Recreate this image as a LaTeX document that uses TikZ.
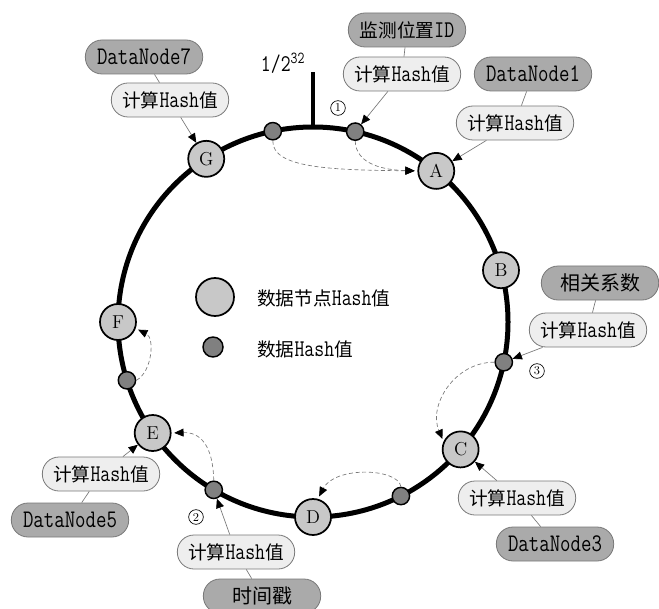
\documentclass[tikz,border=0pt]{standalone}
\usepackage{fontspec}
\usepackage{graphicx}
\newfontfamily\cjk{Noto Sans CJK SC}
\usetikzlibrary{arrows.meta,calc}
\definecolor{darkbox}{RGB}{170,170,170}
\definecolor{lightbox}{RGB}{238,238,238}
\definecolor{bignode}{RGB}{200,200,200}
\definecolor{smallnode}{RGB}{128,128,128}
\definecolor{edgegray}{RGB}{120,120,120}
\newcommand{\lat}[2][18]{\scalebox{0.8}[1]{\ttfamily\fontsize{#1pt}{#1pt}\selectfont #2}}
\newcommand{\hashval}{{\cjk 计算}\lat{Hash}{\cjk 值}}
\begin{document}
\begin{tikzpicture}[x=0.75pt,y=-0.75pt,
  ring/.style={line width=3.75pt},
  bignd/.style={circle,draw=black,line width=1.3pt,fill=bignode,minimum size=27pt,inner sep=0pt,font=\fontsize{14pt}{16pt}\selectfont},
  smallnd/.style={circle,draw=black,line width=1.1pt,fill=smallnode,minimum size=13pt,inner sep=0pt},
  darkb/.style={rectangle,rounded corners=12.5pt,draw=edgegray,line width=0.6pt,fill=darkbox,minimum width=88pt,minimum height=25.5pt,inner sep=0pt,font=\fontsize{14pt}{16pt}\selectfont},
  lightb/.style={darkb,fill=lightbox},
  link/.style={draw=edgegray,line width=0.5pt},
  feed/.style={draw=edgegray,line width=0.5pt,-{Triangle[length=7pt,width=6pt,color=black]}},
  jump/.style={draw=edgegray,dash pattern=on 3pt off 2pt,line width=0.5pt,shorten >=2pt,-{Triangle[length=7pt,width=6pt,color=black]}},
  numc/.style={circle,draw=black,line width=0.5pt,minimum size=11pt,inner sep=0pt,font=\fontsize{9pt}{10pt}\selectfont},
  legtext/.style={anchor=west,inner sep=0pt,font=\fontsize{14pt}{16pt}\selectfont}
]
\useasboundingbox (0,0) rectangle (659,609);
\coordinate (c) at (313,322);
\draw[ring] (c) circle[radius=146.25pt];
% tick
\coordinate (top) at (313,127);
\coordinate (tickend) at (313,72);
\draw[line width=3pt] (top) -- (tickend);
\node (lab) at (283,63) {\lat{1/2\textsuperscript{32}}};
% ring nodes
\node[bignd] (A) at ({313+195*cos(50.8)},{322-195*sin(50.8)}) {A};
\node[bignd] (B) at ({313+195*cos(15.4)},{322-195*sin(15.4)}) {B};
\node[bignd] (C) at ({313+195*cos(-40.8)},{322-195*sin(-40.8)}) {C};
\node[bignd] (D) at ({313+195*cos(-90)},{322-195*sin(-90)}) {D};
\node[bignd] (E) at ({313+195*cos(214.7)},{322-195*sin(214.7)}) {E};
\node[bignd] (F) at ({313+195*cos(180)},{322-195*sin(180)}) {F};
\node[bignd] (G) at ({313+195*cos(123.2)},{322-195*sin(123.2)}) {G};
\node[smallnd] (s1) at ({313+195*cos(101.9)},{322-195*sin(101.9)}) {};
\node[smallnd] (s2) at ({313+195*cos(77.5)},{322-195*sin(77.5)}) {};
\node[smallnd] (s3) at ({313+195*cos(-11.9)},{322-195*sin(-11.9)}) {};
\node[smallnd] (s4) at ({313+195*cos(-63.2)},{322-195*sin(-63.2)}) {};
\node[smallnd] (s5) at ({313+195*cos(-120.6)},{322-195*sin(-120.6)}) {};
\node[smallnd] (s6) at ({313+195*cos(197.4)},{322-195*sin(197.4)}) {};
% legend
\node[bignd,minimum size=28.5pt] (lg1) at (215,297) {};
\node[legtext] (lt1) at (257,298) {{\cjk 数据节点}\lat{Hash}{\cjk 值}};
\node[smallnd,minimum size=15pt] (lg2) at (213,347) {};
\node[legtext] (lt2) at (257,349) {{\cjk 数据}\lat{Hash}{\cjk 值}};
% boxes
\node[darkb] (pid) at (407,30) {{\cjk 监测位置}\lat{ID}};
\node[lightb] (h1) at (402,74) {\hashval};
\node[darkb] (dn7) at (144,57) {\lat[19]{DataNode7}};
\node[lightb] (h7) at (170,100) {\hashval};
\node[darkb] (dn1) at (533,74) {\lat[19]{DataNode1}};
\node[lightb] (hA) at (515,123) {\hashval};
\node[darkb,font=\fontsize{15pt}{17pt}\selectfont] (rel) at (600,283) {\cjk 相关系数};
\node[lightb] (h3) at (588,330) {\hashval};
\node[darkb] (dn3) at (555,544) {\lat[19]{DataNode3}};
\node[lightb] (hC) at (517,498) {\hashval};
\node[darkb] (dn5) at (70,520) {\lat[19]{DataNode5}};
\node[lightb] (hE) at (101,474) {\hashval};
\node[darkb,font=\fontsize{15pt}{17pt}\selectfont] (ts) at (262,596) {\cjk 时间戳};
\node[lightb] (h2) at (236,552) {\hashval};
% circled numbers
\node[numc] (n1) at (338,108) {1};
\node[numc] (n2) at (196,517) {2};
\node[numc] (n3) at (537,371) {3};
% links
\draw[link] (pid) -- (h1);
\draw[link] (dn7) -- (h7);
\draw[link] (dn1) -- (hA);
\draw[link] (rel) -- (h3);
\draw[link] (dn3) -- (hC);
\draw[link] (dn5) -- (hE);
\draw[link] (ts) -- (h2);
\draw[feed] (h1) -- (s2);
\draw[feed] (h7) -- (G);
\draw[feed] (hA) -- (A);
\draw[feed] (h3) -- (s3);
\draw[feed] (hC) -- (C);
\draw[feed] (hE) -- (E);
\draw[feed] (h2) -- (s5);
% dashed jumps
\draw[jump] (s1.south) .. controls (272,168) and (330,170) .. (A.west);
\draw[jump] (s2.south) .. controls (356,165) and (385,170) .. (A.west);
\draw[jump] (s3.west) .. controls (455,362) and (428,405) .. (C.155);
\draw[jump] (s4.north) .. controls (398,468) and (335,466) .. (D.75);
\draw[jump] (s5.north) .. controls (213,445) and (200,432) .. (E.east);
\draw[jump] (s6.east) .. controls (152,372) and (155,338) .. (F.-20);
\end{tikzpicture}
\end{document}
